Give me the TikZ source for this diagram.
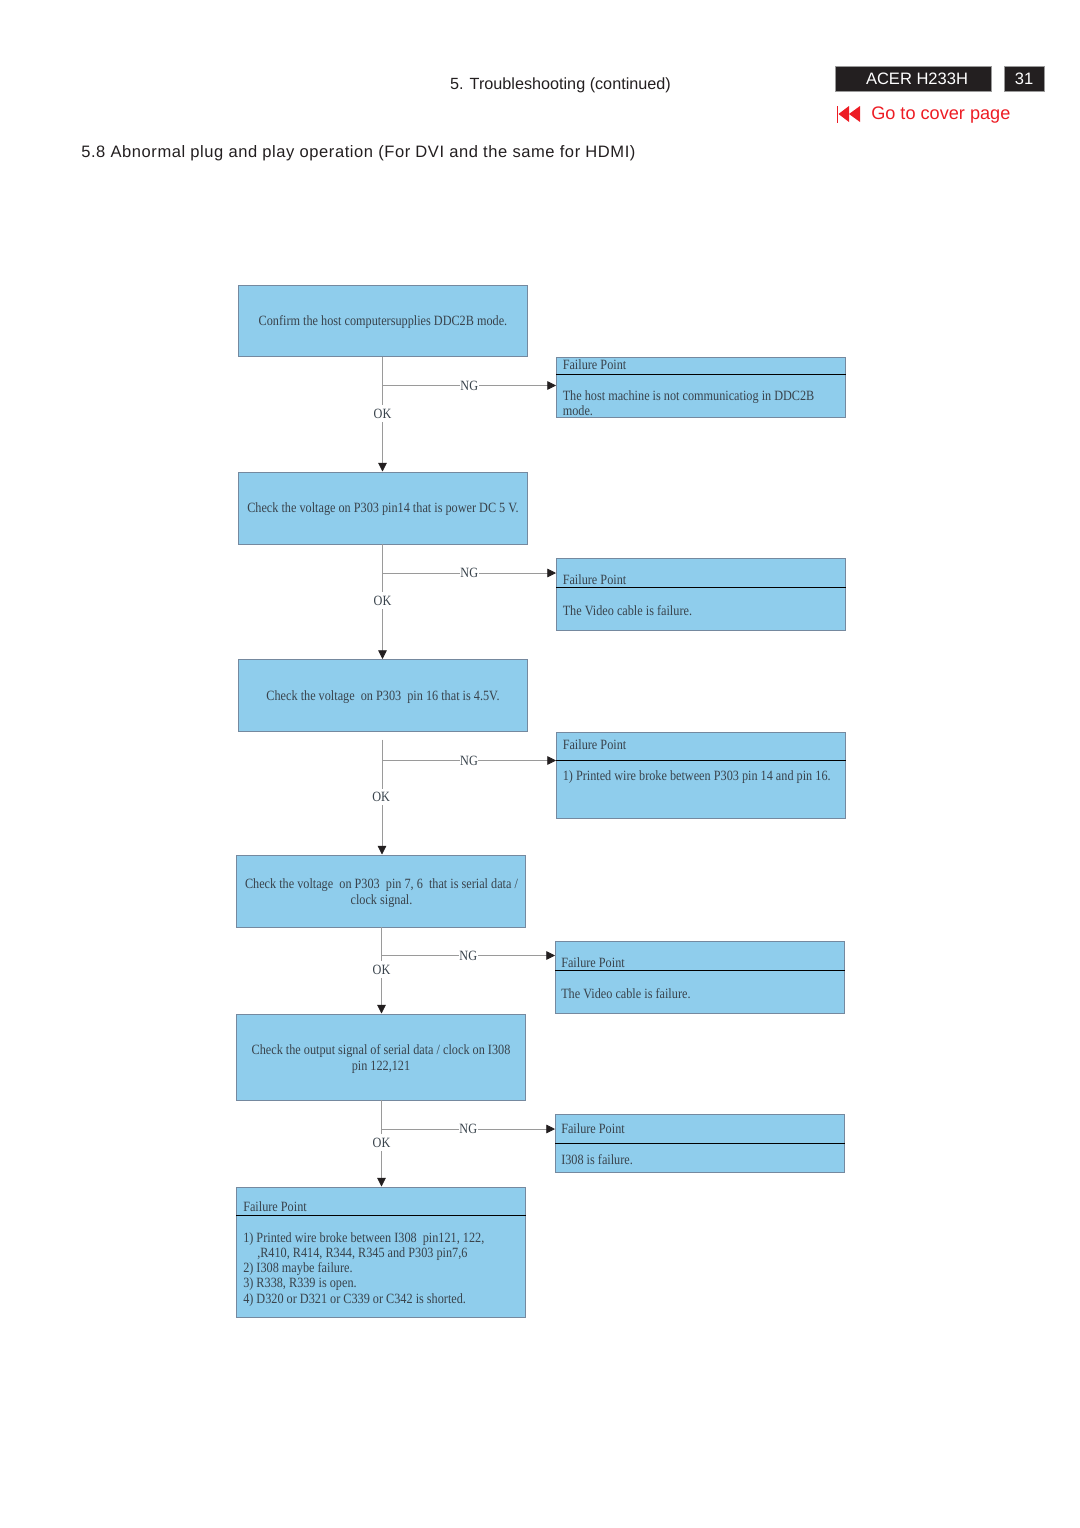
\documentclass[tikz,border=0pt]{standalone}
\usepackage{fontspec}
\setmainfont{Liberation Sans}
\newfontfamily\boxfont[FakeStretch=0.865]{Liberation Serif}
\newfontfamily\headfont[LetterSpace=3.45]{Liberation Sans}
\usetikzlibrary{arrows.meta, positioning, calc}

\definecolor{boxblue}{HTML}{8FCDEC}
\definecolor{boxedge}{HTML}{75899F}
\definecolor{boxtext}{HTML}{39434C}
\definecolor{flowgray}{HTML}{9A9A9A}
\definecolor{tipdark}{HTML}{231F20}
\definecolor{linkred}{HTML}{ED1C24}

\tikzset{
  stepbox/.style={draw=boxedge, fill=boxblue, line width=0.6pt, anchor=north west, inner sep=0pt},
  boxtxt/.style={text=boxtext, inner sep=0pt, font=\boxfont\fontsize{10.6}{11.5}\selectfont},
  linetxt/.style={boxtxt, text depth=0pt},
  lefttxt/.style={linetxt, anchor=west},
  flow/.style={draw=flowgray, line width=0.6pt, -{Triangle[length=6.5pt, width=6.5pt, color=tipdark]}},
  tag/.style={text=boxtext, fill=white, inner xsep=0.4pt, inner ysep=2.6pt, font=\boxfont\fontsize{10.6}{11.5}\selectfont},
  blackbar/.style={fill=tipdark, draw=flowgray, line width=0.3pt, text=white, inner sep=0pt,
    font=\fontsize{12.4}{14}\selectfont},
  headline/.style={draw=black, line width=0.7pt}
}

\begin{document}
\begin{tikzpicture}[x=0.75pt, y=-0.75pt]
  \useasboundingbox (0,0) rectangle (1080,1528);

  % page header
  \node[inner sep=0pt, text depth=0pt, font=\fontsize{12.15}{14}\selectfont, text=tipdark] (title) at (560.5,83.5) {5. Troubleshooting (continued)};
  \node[blackbar, minimum width=117pt, minimum height=18.6pt] (model) at (913,78.5) {};
  \node[inner sep=0pt, text=white, font=\fontsize{12.4}{14}\selectfont] (modeltxt) at (917,79) {ACER H233H};
  \node[blackbar, minimum width=30pt, minimum height=18.6pt] (page) at (1024,78.5) {31};
  \node[inner sep=0pt, anchor=west, text depth=0pt, text=linkred, font=\fontsize{13.6}{16}\selectfont] (cover) at (871,113.5) {Go to cover page};
  \node[inner sep=0pt, anchor=west, text depth=0pt, text=tipdark, font=\headfont\fontsize{12.4}{14}\selectfont] (section) at (81,151.5)
    {5.8 Abnormal plug and play operation (For DVI and the same for HDMI)};

  % rewind icon
  \fill[linkred] (836.5,105.5) rectangle (838,122.5);
  \fill[linkred] (838.5,114) -- (849,106) -- (849,122) -- cycle;
  \fill[linkred] (849,114) -- (860,106) -- (860,122) -- cycle;

  % steps
  \node[stepbox, minimum width=217pt, minimum height=53.5pt] (s1) at (237.5,284.5) {};
  \node[linetxt] (s1txt) at (383,320.5) {Confirm the host computersupplies DDC2B mode.};
  \node[stepbox, minimum width=217pt, minimum height=54pt] (s2) at (237.5,471.5) {};
  \node[linetxt] (s2txt) at (383,508) {Check the voltage on P303 pin14 that is power DC 5 V.};
  \node[stepbox, minimum width=217pt, minimum height=54pt] (s3) at (237.5,659) {};
  \node[linetxt] (s3txt) at (383,695.5) {Check the voltage\ \ on P303\ \ pin 16 that is 4.5V.};
  \node[stepbox, minimum width=217pt, minimum height=54pt] (s4) at (236,854.5) {};
  \node[boxtxt, align=center] (s4txt) at (381.5,893) {Check the voltage\ \ on P303\ \ pin 7, 6\ \ that is serial data /\\clock signal.};
  \node[stepbox, minimum width=217pt, minimum height=64.5pt] (s5) at (236,1013.5) {};
  \node[boxtxt, align=center] (s5txt) at (381,1059) {Check the output signal of serial data / clock on I308\\pin 122,121};

  % failure points
  \node[stepbox, minimum width=217pt, minimum height=45.5pt] (f1) at (556,356.5) {};
  \draw[headline] (f1.west |- 0,374.5) -- (f1.east |- 0,374.5);
  \node[lefttxt] (f1a) at (562.5,365) {Failure Point};
  \node[lefttxt] (f1b) at (562.5,395.5) {The host machine is not communicatiog in DDC2B};
  \node[lefttxt] (f1c) at (562.5,410.5) {mode.};

  \node[stepbox, minimum width=217pt, minimum height=54pt] (f2) at (556,558) {};
  \draw[headline] (f2.west |- 0,587.5) -- (f2.east |- 0,587.5);
  \node[lefttxt] (f2a) at (562.5,579.5) {Failure Point};
  \node[lefttxt] (f2b) at (562.5,610.5) {The Video cable is failure.};

  \node[stepbox, minimum width=217pt, minimum height=65pt] (f3) at (556,731.5) {};
  \draw[headline] (f3.west |- 0,760.5) -- (f3.east |- 0,760.5);
  \node[lefttxt] (f3a) at (562.5,745) {Failure Point};
  \node[lefttxt] (f3b) at (562.5,775.5) {1) Printed wire broke between P303 pin 14 and pin 16.};

  \node[stepbox, minimum width=217pt, minimum height=54pt] (f4) at (555,941) {};
  \draw[headline] (f4.west |- 0,970.5) -- (f4.east |- 0,970.5);
  \node[lefttxt] (f4a) at (561,962.5) {Failure Point};
  \node[lefttxt] (f4b) at (561,993.5) {The Video cable is failure.};

  \node[stepbox, minimum width=217pt, minimum height=43.5pt] (f5) at (555,1114) {};
  \draw[headline] (f5.west |- 0,1143.5) -- (f5.east |- 0,1143.5);
  \node[lefttxt] (f5a) at (561,1128.5) {Failure Point};
  \node[lefttxt] (f5b) at (561,1159.5) {I308 is failure.};

  \node[stepbox, minimum width=217pt, minimum height=97.5pt] (f6) at (236,1186.5) {};
  \draw[headline] (f6.west |- 0,1215.5) -- (f6.east |- 0,1215.5);
  \node[lefttxt] (f6a) at (243,1206.5) {Failure Point};
  \node[lefttxt] (f6b) at (243,1237.5) {1) Printed wire broke between I308\ \ pin121, 122,};
  \node[lefttxt] (f6c) at (257,1252.5) {,R410, R414, R344, R345 and P303 pin7,6};
  \node[lefttxt] (f6d) at (243,1267.5) {2) I308 maybe failure.};
  \node[lefttxt] (f6e) at (243,1283) {3) R338, R339 is open.};
  \node[lefttxt] (f6f) at (243,1298.5) {4) D320 or D321 or C339 or C342 is shorted.};

  % branch points
  \coordinate (j1) at (382.5,385.5);
  \coordinate (j2) at (382.5,573);
  \coordinate (j3) at (382,760.5);
  \coordinate (j4) at (381.5,955.5);
  \coordinate (j5) at (381.5,1129);
  \coordinate (t3) at (382,739.5);

  % OK path
  \draw[flow] (s1.south -| j1) -- (s2.north -| j1) node[tag, pos=0.495] {OK};
  \draw[flow] (s2.south -| j2) -- (s3.north -| j2) node[tag, pos=0.49] {OK};
  \draw[flow] (t3) -- (s4.north -| t3) node[tag, midway, xshift=-0.6pt] {OK};
  \draw[flow] (s4.south -| j4) -- (s5.north -| j4) node[tag, pos=0.49] {OK};
  \draw[flow] (s5.south -| j5) -- (f6.north -| j5) node[tag, pos=0.49] {OK};

  % NG path
  \draw[flow] (j1) -- (f1.west |- j1) node[tag, pos=0.5] {NG};
  \draw[flow] (j2) -- (f2.west |- j2) node[tag, pos=0.5] {NG};
  \draw[flow] (j3) -- (f3.west |- j3) node[tag, pos=0.5] {NG};
  \draw[flow] (j4) -- (f4.west |- j4) node[tag, pos=0.5] {NG};
  \draw[flow] (j5) -- (f5.west |- j5) node[tag, pos=0.5] {NG};
\end{tikzpicture}
\end{document}
